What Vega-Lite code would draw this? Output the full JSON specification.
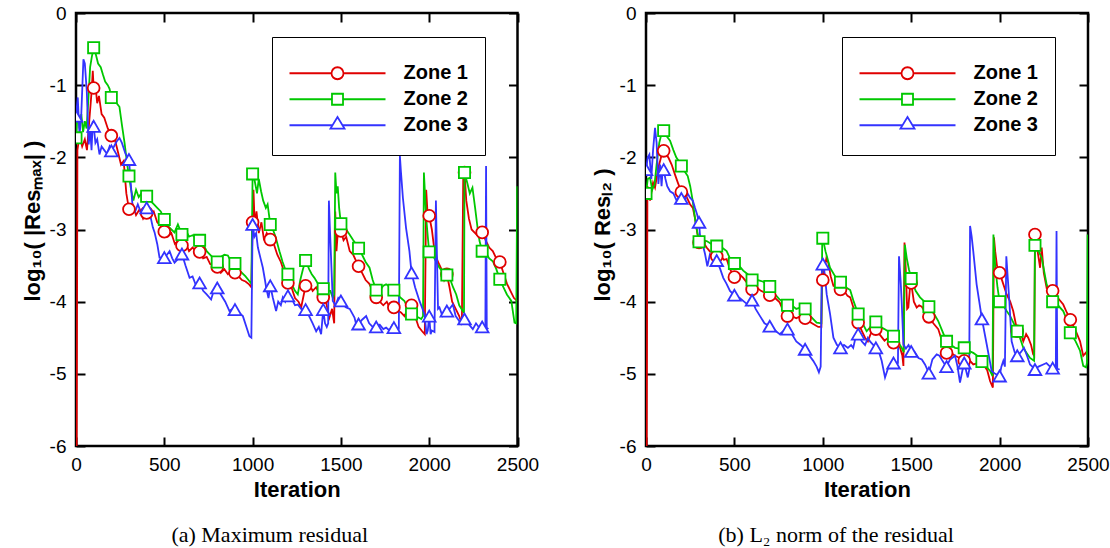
{
"$schema": "https://vega.github.io/schema/vega-lite/v6.json",
"background": "white",
"padding": {"left": 19, "top": 2, "right": 0, "bottom": 0},
"bounds": "flush",
"spacing": 128,
"config": {"view": {"stroke": "black", "strokeWidth": 2.5}, "font": "Liberation Sans"},
"resolve": {"scale": {"color": "independent", "shape": "independent"}, "legend": {"color": "independent", "shape": "independent"}},
"datasets": {"d": [
{"p":"a","z":1,"i":3,"v":-7},{"p":"a","z":1,"i":8,"v":-1.9},{"p":"a","z":1,"i":20,"v":-1.7},{"p":"a","z":1,"i":35,"v":-1.85},{"p":"a","z":1,"i":50,"v":-1.75},{"p":"a","z":1,"i":62,"v":-1.9},{"p":"a","z":1,"i":75,"v":-1.5},{"p":"a","z":1,"i":88,"v":-1.1},{"p":"a","z":1,"i":95,"v":-0.8},{"p":"a","z":1,"i":100,"v":-1.04},{"p":"a","z":1,"i":110,"v":-1.0},{"p":"a","z":1,"i":120,"v":-1.25},{"p":"a","z":1,"i":130,"v":-1.15},{"p":"a","z":1,"i":145,"v":-1.4},{"p":"a","z":1,"i":160,"v":-1.45},{"p":"a","z":1,"i":180,"v":-1.6},{"p":"a","z":1,"i":200,"v":-1.7},{"p":"a","z":1,"i":220,"v":-1.75},{"p":"a","z":1,"i":240,"v":-1.95},{"p":"a","z":1,"i":255,"v":-2.1},{"p":"a","z":1,"i":270,"v":-2.05},{"p":"a","z":1,"i":285,"v":-2.5},{"p":"a","z":1,"i":300,"v":-2.72},{"p":"a","z":1,"i":320,"v":-2.65},{"p":"a","z":1,"i":340,"v":-2.8},{"p":"a","z":1,"i":360,"v":-2.72},{"p":"a","z":1,"i":380,"v":-2.85},{"p":"a","z":1,"i":400,"v":-2.77},{"p":"a","z":1,"i":420,"v":-2.8},{"p":"a","z":1,"i":440,"v":-2.75},{"p":"a","z":1,"i":460,"v":-2.9},{"p":"a","z":1,"i":480,"v":-2.95},{"p":"a","z":1,"i":500,"v":-3.03},{"p":"a","z":1,"i":520,"v":-3.1},{"p":"a","z":1,"i":540,"v":-3.05},{"p":"a","z":1,"i":560,"v":-3.2},{"p":"a","z":1,"i":580,"v":-3.15},{"p":"a","z":1,"i":600,"v":-3.22},{"p":"a","z":1,"i":620,"v":-3.18},{"p":"a","z":1,"i":640,"v":-3.3},{"p":"a","z":1,"i":660,"v":-3.25},{"p":"a","z":1,"i":680,"v":-3.3},{"p":"a","z":1,"i":700,"v":-3.31},{"p":"a","z":1,"i":720,"v":-3.4},{"p":"a","z":1,"i":740,"v":-3.38},{"p":"a","z":1,"i":760,"v":-3.48},{"p":"a","z":1,"i":780,"v":-3.5},{"p":"a","z":1,"i":800,"v":-3.52},{"p":"a","z":1,"i":820,"v":-3.6},{"p":"a","z":1,"i":840,"v":-3.55},{"p":"a","z":1,"i":860,"v":-3.62},{"p":"a","z":1,"i":880,"v":-3.58},{"p":"a","z":1,"i":900,"v":-3.6},{"p":"a","z":1,"i":920,"v":-3.65},{"p":"a","z":1,"i":940,"v":-3.7},{"p":"a","z":1,"i":960,"v":-3.72},{"p":"a","z":1,"i":980,"v":-3.76},{"p":"a","z":1,"i":993,"v":-3.8},{"p":"a","z":1,"i":1000,"v":-2.9},{"p":"a","z":1,"i":1005,"v":-2.45},{"p":"a","z":1,"i":1012,"v":-2.95},{"p":"a","z":1,"i":1022,"v":-2.75},{"p":"a","z":1,"i":1035,"v":-3.05},{"p":"a","z":1,"i":1050,"v":-2.9},{"p":"a","z":1,"i":1065,"v":-3.15},{"p":"a","z":1,"i":1080,"v":-3.05},{"p":"a","z":1,"i":1100,"v":-3.14},{"p":"a","z":1,"i":1120,"v":-3.2},{"p":"a","z":1,"i":1140,"v":-3.35},{"p":"a","z":1,"i":1160,"v":-3.45},{"p":"a","z":1,"i":1180,"v":-3.6},{"p":"a","z":1,"i":1200,"v":-3.74},{"p":"a","z":1,"i":1220,"v":-3.8},{"p":"a","z":1,"i":1240,"v":-3.95},{"p":"a","z":1,"i":1260,"v":-4.0},{"p":"a","z":1,"i":1275,"v":-4.08},{"p":"a","z":1,"i":1290,"v":-3.9},{"p":"a","z":1,"i":1300,"v":-3.78},{"p":"a","z":1,"i":1320,"v":-3.75},{"p":"a","z":1,"i":1340,"v":-3.85},{"p":"a","z":1,"i":1360,"v":-3.8},{"p":"a","z":1,"i":1380,"v":-3.9},{"p":"a","z":1,"i":1400,"v":-3.94},{"p":"a","z":1,"i":1415,"v":-4.0},{"p":"a","z":1,"i":1435,"v":-4.22},{"p":"a","z":1,"i":1450,"v":-4.1},{"p":"a","z":1,"i":1462,"v":-4.3},{"p":"a","z":1,"i":1468,"v":-2.75},{"p":"a","z":1,"i":1475,"v":-3.3},{"p":"a","z":1,"i":1485,"v":-2.95},{"p":"a","z":1,"i":1500,"v":-3.02},{"p":"a","z":1,"i":1515,"v":-3.15},{"p":"a","z":1,"i":1530,"v":-3.1},{"p":"a","z":1,"i":1550,"v":-3.3},{"p":"a","z":1,"i":1570,"v":-3.35},{"p":"a","z":1,"i":1600,"v":-3.51},{"p":"a","z":1,"i":1620,"v":-3.6},{"p":"a","z":1,"i":1640,"v":-3.7},{"p":"a","z":1,"i":1660,"v":-3.75},{"p":"a","z":1,"i":1680,"v":-3.85},{"p":"a","z":1,"i":1700,"v":-3.94},{"p":"a","z":1,"i":1720,"v":-4.0},{"p":"a","z":1,"i":1740,"v":-4.05},{"p":"a","z":1,"i":1760,"v":-4.0},{"p":"a","z":1,"i":1780,"v":-4.1},{"p":"a","z":1,"i":1800,"v":-4.08},{"p":"a","z":1,"i":1820,"v":-4.12},{"p":"a","z":1,"i":1840,"v":-4.15},{"p":"a","z":1,"i":1860,"v":-4.2},{"p":"a","z":1,"i":1880,"v":-4.1},{"p":"a","z":1,"i":1900,"v":-4.05},{"p":"a","z":1,"i":1920,"v":-4.2},{"p":"a","z":1,"i":1940,"v":-4.35},{"p":"a","z":1,"i":1960,"v":-4.41},{"p":"a","z":1,"i":1975,"v":-4.45},{"p":"a","z":1,"i":1983,"v":-2.45},{"p":"a","z":1,"i":1990,"v":-2.75},{"p":"a","z":1,"i":2000,"v":-2.81},{"p":"a","z":1,"i":2015,"v":-3.0},{"p":"a","z":1,"i":2030,"v":-3.3},{"p":"a","z":1,"i":2050,"v":-3.45},{"p":"a","z":1,"i":2070,"v":-3.55},{"p":"a","z":1,"i":2085,"v":-3.7},{"p":"a","z":1,"i":2100,"v":-3.62},{"p":"a","z":1,"i":2115,"v":-3.8},{"p":"a","z":1,"i":2130,"v":-4.0},{"p":"a","z":1,"i":2150,"v":-4.1},{"p":"a","z":1,"i":2170,"v":-4.2},{"p":"a","z":1,"i":2185,"v":-4.3},{"p":"a","z":1,"i":2193,"v":-2.2},{"p":"a","z":1,"i":2200,"v":-2.21},{"p":"a","z":1,"i":2210,"v":-2.6},{"p":"a","z":1,"i":2225,"v":-2.85},{"p":"a","z":1,"i":2240,"v":-3.0},{"p":"a","z":1,"i":2260,"v":-3.05},{"p":"a","z":1,"i":2280,"v":-3.1},{"p":"a","z":1,"i":2300,"v":-3.04},{"p":"a","z":1,"i":2320,"v":-3.15},{"p":"a","z":1,"i":2340,"v":-3.25},{"p":"a","z":1,"i":2360,"v":-3.3},{"p":"a","z":1,"i":2380,"v":-3.4},{"p":"a","z":1,"i":2400,"v":-3.45},{"p":"a","z":1,"i":2420,"v":-3.6},{"p":"a","z":1,"i":2440,"v":-3.75},{"p":"a","z":1,"i":2460,"v":-3.85},{"p":"a","z":1,"i":2480,"v":-3.95},{"p":"a","z":1,"i":2498,"v":-3.99},
{"p":"a","z":2,"i":0,"v":-1.73},{"p":"a","z":2,"i":10,"v":-1.35},{"p":"a","z":2,"i":20,"v":-1.6},{"p":"a","z":2,"i":30,"v":-1.4},{"p":"a","z":2,"i":40,"v":-1.65},{"p":"a","z":2,"i":50,"v":-1.5},{"p":"a","z":2,"i":60,"v":-1.6},{"p":"a","z":2,"i":70,"v":-1.2},{"p":"a","z":2,"i":80,"v":-0.75},{"p":"a","z":2,"i":90,"v":-0.6},{"p":"a","z":2,"i":100,"v":-0.48},{"p":"a","z":2,"i":110,"v":-0.55},{"p":"a","z":2,"i":125,"v":-0.7},{"p":"a","z":2,"i":140,"v":-0.75},{"p":"a","z":2,"i":152,"v":-0.85},{"p":"a","z":2,"i":165,"v":-0.95},{"p":"a","z":2,"i":180,"v":-1.0},{"p":"a","z":2,"i":190,"v":-1.05},{"p":"a","z":2,"i":200,"v":-1.17},{"p":"a","z":2,"i":215,"v":-1.2},{"p":"a","z":2,"i":230,"v":-1.25},{"p":"a","z":2,"i":246,"v":-1.3},{"p":"a","z":2,"i":260,"v":-1.55},{"p":"a","z":2,"i":275,"v":-1.8},{"p":"a","z":2,"i":290,"v":-2.1},{"p":"a","z":2,"i":300,"v":-2.26},{"p":"a","z":2,"i":312,"v":-2.45},{"p":"a","z":2,"i":325,"v":-2.6},{"p":"a","z":2,"i":340,"v":-2.45},{"p":"a","z":2,"i":355,"v":-2.55},{"p":"a","z":2,"i":370,"v":-2.5},{"p":"a","z":2,"i":385,"v":-2.6},{"p":"a","z":2,"i":400,"v":-2.54},{"p":"a","z":2,"i":420,"v":-2.6},{"p":"a","z":2,"i":440,"v":-2.65},{"p":"a","z":2,"i":460,"v":-2.7},{"p":"a","z":2,"i":480,"v":-2.75},{"p":"a","z":2,"i":500,"v":-2.86},{"p":"a","z":2,"i":520,"v":-2.95},{"p":"a","z":2,"i":540,"v":-3.0},{"p":"a","z":2,"i":558,"v":-3.04},{"p":"a","z":2,"i":577,"v":-2.93},{"p":"a","z":2,"i":600,"v":-3.07},{"p":"a","z":2,"i":620,"v":-3.0},{"p":"a","z":2,"i":640,"v":-3.1},{"p":"a","z":2,"i":660,"v":-3.08},{"p":"a","z":2,"i":680,"v":-3.12},{"p":"a","z":2,"i":700,"v":-3.15},{"p":"a","z":2,"i":720,"v":-3.2},{"p":"a","z":2,"i":740,"v":-3.3},{"p":"a","z":2,"i":760,"v":-3.35},{"p":"a","z":2,"i":780,"v":-3.4},{"p":"a","z":2,"i":800,"v":-3.45},{"p":"a","z":2,"i":820,"v":-3.38},{"p":"a","z":2,"i":840,"v":-3.35},{"p":"a","z":2,"i":860,"v":-3.36},{"p":"a","z":2,"i":880,"v":-3.45},{"p":"a","z":2,"i":900,"v":-3.47},{"p":"a","z":2,"i":920,"v":-3.55},{"p":"a","z":2,"i":940,"v":-3.6},{"p":"a","z":2,"i":960,"v":-3.65},{"p":"a","z":2,"i":980,"v":-3.71},{"p":"a","z":2,"i":993,"v":-3.75},{"p":"a","z":2,"i":1000,"v":-2.23},{"p":"a","z":2,"i":1010,"v":-2.3},{"p":"a","z":2,"i":1025,"v":-2.5},{"p":"a","z":2,"i":1035,"v":-2.3},{"p":"a","z":2,"i":1048,"v":-2.47},{"p":"a","z":2,"i":1060,"v":-2.6},{"p":"a","z":2,"i":1075,"v":-2.7},{"p":"a","z":2,"i":1085,"v":-2.65},{"p":"a","z":2,"i":1100,"v":-2.93},{"p":"a","z":2,"i":1115,"v":-3.0},{"p":"a","z":2,"i":1130,"v":-3.1},{"p":"a","z":2,"i":1152,"v":-3.3},{"p":"a","z":2,"i":1170,"v":-3.45},{"p":"a","z":2,"i":1185,"v":-3.55},{"p":"a","z":2,"i":1200,"v":-3.62},{"p":"a","z":2,"i":1220,"v":-3.75},{"p":"a","z":2,"i":1240,"v":-3.85},{"p":"a","z":2,"i":1256,"v":-3.9},{"p":"a","z":2,"i":1270,"v":-3.7},{"p":"a","z":2,"i":1285,"v":-3.55},{"p":"a","z":2,"i":1300,"v":-3.43},{"p":"a","z":2,"i":1320,"v":-3.55},{"p":"a","z":2,"i":1335,"v":-3.62},{"p":"a","z":2,"i":1350,"v":-3.67},{"p":"a","z":2,"i":1370,"v":-3.75},{"p":"a","z":2,"i":1385,"v":-3.8},{"p":"a","z":2,"i":1400,"v":-3.82},{"p":"a","z":2,"i":1420,"v":-3.85},{"p":"a","z":2,"i":1440,"v":-3.85},{"p":"a","z":2,"i":1455,"v":-3.95},{"p":"a","z":2,"i":1462,"v":-3.9},{"p":"a","z":2,"i":1468,"v":-2.21},{"p":"a","z":2,"i":1475,"v":-2.5},{"p":"a","z":2,"i":1482,"v":-2.4},{"p":"a","z":2,"i":1490,"v":-2.7},{"p":"a","z":2,"i":1500,"v":-2.92},{"p":"a","z":2,"i":1515,"v":-2.95},{"p":"a","z":2,"i":1530,"v":-3.0},{"p":"a","z":2,"i":1549,"v":-3.07},{"p":"a","z":2,"i":1570,"v":-3.15},{"p":"a","z":2,"i":1585,"v":-3.2},{"p":"a","z":2,"i":1600,"v":-3.26},{"p":"a","z":2,"i":1620,"v":-3.35},{"p":"a","z":2,"i":1640,"v":-3.45},{"p":"a","z":2,"i":1662,"v":-3.53},{"p":"a","z":2,"i":1680,"v":-3.7},{"p":"a","z":2,"i":1700,"v":-3.84},{"p":"a","z":2,"i":1720,"v":-3.85},{"p":"a","z":2,"i":1740,"v":-3.78},{"p":"a","z":2,"i":1756,"v":-3.76},{"p":"a","z":2,"i":1780,"v":-3.8},{"p":"a","z":2,"i":1800,"v":-3.84},{"p":"a","z":2,"i":1820,"v":-3.9},{"p":"a","z":2,"i":1840,"v":-3.95},{"p":"a","z":2,"i":1860,"v":-3.99},{"p":"a","z":2,"i":1880,"v":-4.1},{"p":"a","z":2,"i":1900,"v":-4.17},{"p":"a","z":2,"i":1920,"v":-4.2},{"p":"a","z":2,"i":1940,"v":-4.22},{"p":"a","z":2,"i":1955,"v":-4.24},{"p":"a","z":2,"i":1965,"v":-4.2},{"p":"a","z":2,"i":1970,"v":-2.21},{"p":"a","z":2,"i":1978,"v":-2.6},{"p":"a","z":2,"i":1985,"v":-2.9},{"p":"a","z":2,"i":1992,"v":-3.1},{"p":"a","z":2,"i":2000,"v":-3.31},{"p":"a","z":2,"i":2020,"v":-3.35},{"p":"a","z":2,"i":2040,"v":-3.45},{"p":"a","z":2,"i":2058,"v":-3.53},{"p":"a","z":2,"i":2080,"v":-3.6},{"p":"a","z":2,"i":2100,"v":-3.63},{"p":"a","z":2,"i":2120,"v":-3.7},{"p":"a","z":2,"i":2135,"v":-3.8},{"p":"a","z":2,"i":2153,"v":-3.9},{"p":"a","z":2,"i":2170,"v":-4.05},{"p":"a","z":2,"i":2190,"v":-4.13},{"p":"a","z":2,"i":2197,"v":-4.15},{"p":"a","z":2,"i":2200,"v":-2.21},{"p":"a","z":2,"i":2215,"v":-2.35},{"p":"a","z":2,"i":2230,"v":-2.5},{"p":"a","z":2,"i":2245,"v":-2.42},{"p":"a","z":2,"i":2260,"v":-2.7},{"p":"a","z":2,"i":2275,"v":-3.0},{"p":"a","z":2,"i":2285,"v":-3.16},{"p":"a","z":2,"i":2300,"v":-3.3},{"p":"a","z":2,"i":2320,"v":-3.32},{"p":"a","z":2,"i":2340,"v":-3.4},{"p":"a","z":2,"i":2360,"v":-3.44},{"p":"a","z":2,"i":2380,"v":-3.55},{"p":"a","z":2,"i":2400,"v":-3.69},{"p":"a","z":2,"i":2420,"v":-3.8},{"p":"a","z":2,"i":2440,"v":-3.9},{"p":"a","z":2,"i":2465,"v":-3.99},{"p":"a","z":2,"i":2483,"v":-4.29},{"p":"a","z":2,"i":2493,"v":-4.3},{"p":"a","z":2,"i":2498,"v":-2.4},
{"p":"a","z":3,"i":0,"v":-1.43},{"p":"a","z":3,"i":10,"v":-1.17},{"p":"a","z":3,"i":20,"v":-1.7},{"p":"a","z":3,"i":30,"v":-1.4},{"p":"a","z":3,"i":42,"v":-0.64},{"p":"a","z":3,"i":50,"v":-0.7},{"p":"a","z":3,"i":61,"v":-1.08},{"p":"a","z":3,"i":72,"v":-1.82},{"p":"a","z":3,"i":80,"v":-1.6},{"p":"a","z":3,"i":88,"v":-1.9},{"p":"a","z":3,"i":95,"v":-1.5},{"p":"a","z":3,"i":100,"v":-1.57},{"p":"a","z":3,"i":110,"v":-1.8},{"p":"a","z":3,"i":120,"v":-1.75},{"p":"a","z":3,"i":133,"v":-1.96},{"p":"a","z":3,"i":145,"v":-1.85},{"p":"a","z":3,"i":160,"v":-1.9},{"p":"a","z":3,"i":175,"v":-1.95},{"p":"a","z":3,"i":190,"v":-1.85},{"p":"a","z":3,"i":200,"v":-1.91},{"p":"a","z":3,"i":215,"v":-1.85},{"p":"a","z":3,"i":230,"v":-1.78},{"p":"a","z":3,"i":246,"v":-1.73},{"p":"a","z":3,"i":260,"v":-1.8},{"p":"a","z":3,"i":280,"v":-1.95},{"p":"a","z":3,"i":300,"v":-2.03},{"p":"a","z":3,"i":312,"v":-2.42},{"p":"a","z":3,"i":321,"v":-2.7},{"p":"a","z":3,"i":335,"v":-2.75},{"p":"a","z":3,"i":350,"v":-2.65},{"p":"a","z":3,"i":365,"v":-2.75},{"p":"a","z":3,"i":380,"v":-2.7},{"p":"a","z":3,"i":400,"v":-2.7},{"p":"a","z":3,"i":420,"v":-2.8},{"p":"a","z":3,"i":435,"v":-2.97},{"p":"a","z":3,"i":445,"v":-3.04},{"p":"a","z":3,"i":460,"v":-3.2},{"p":"a","z":3,"i":473,"v":-3.39},{"p":"a","z":3,"i":500,"v":-3.39},{"p":"a","z":3,"i":515,"v":-3.35},{"p":"a","z":3,"i":530,"v":-3.3},{"p":"a","z":3,"i":545,"v":-3.4},{"p":"a","z":3,"i":558,"v":-3.46},{"p":"a","z":3,"i":580,"v":-3.4},{"p":"a","z":3,"i":600,"v":-3.34},{"p":"a","z":3,"i":620,"v":-3.5},{"p":"a","z":3,"i":643,"v":-3.67},{"p":"a","z":3,"i":660,"v":-3.65},{"p":"a","z":3,"i":680,"v":-3.78},{"p":"a","z":3,"i":700,"v":-3.74},{"p":"a","z":3,"i":720,"v":-3.85},{"p":"a","z":3,"i":740,"v":-3.9},{"p":"a","z":3,"i":765,"v":-3.97},{"p":"a","z":3,"i":780,"v":-3.85},{"p":"a","z":3,"i":800,"v":-3.81},{"p":"a","z":3,"i":820,"v":-3.9},{"p":"a","z":3,"i":845,"v":-4.0},{"p":"a","z":3,"i":869,"v":-4.13},{"p":"a","z":3,"i":885,"v":-4.1},{"p":"a","z":3,"i":900,"v":-4.11},{"p":"a","z":3,"i":920,"v":-4.15},{"p":"a","z":3,"i":945,"v":-4.2},{"p":"a","z":3,"i":965,"v":-4.35},{"p":"a","z":3,"i":982,"v":-4.48},{"p":"a","z":3,"i":993,"v":-4.5},{"p":"a","z":3,"i":1000,"v":-2.93},{"p":"a","z":3,"i":1010,"v":-3.1},{"p":"a","z":3,"i":1020,"v":-3.05},{"p":"a","z":3,"i":1030,"v":-3.25},{"p":"a","z":3,"i":1045,"v":-3.4},{"p":"a","z":3,"i":1058,"v":-3.53},{"p":"a","z":3,"i":1070,"v":-3.7},{"p":"a","z":3,"i":1077,"v":-3.81},{"p":"a","z":3,"i":1090,"v":-3.95},{"p":"a","z":3,"i":1100,"v":-3.78},{"p":"a","z":3,"i":1115,"v":-3.95},{"p":"a","z":3,"i":1133,"v":-4.13},{"p":"a","z":3,"i":1145,"v":-4.0},{"p":"a","z":3,"i":1160,"v":-4.05},{"p":"a","z":3,"i":1171,"v":-3.94},{"p":"a","z":3,"i":1185,"v":-4.0},{"p":"a","z":3,"i":1200,"v":-3.92},{"p":"a","z":3,"i":1220,"v":-3.95},{"p":"a","z":3,"i":1240,"v":-4.05},{"p":"a","z":3,"i":1256,"v":-4.04},{"p":"a","z":3,"i":1275,"v":-4.1},{"p":"a","z":3,"i":1300,"v":-4.11},{"p":"a","z":3,"i":1320,"v":-4.2},{"p":"a","z":3,"i":1340,"v":-4.3},{"p":"a","z":3,"i":1360,"v":-4.41},{"p":"a","z":3,"i":1375,"v":-4.35},{"p":"a","z":3,"i":1388,"v":-4.45},{"p":"a","z":3,"i":1400,"v":-4.11},{"p":"a","z":3,"i":1410,"v":-4.3},{"p":"a","z":3,"i":1420,"v":-4.35},{"p":"a","z":3,"i":1428,"v":-4.3},{"p":"a","z":3,"i":1432,"v":-2.6},{"p":"a","z":3,"i":1438,"v":-3.0},{"p":"a","z":3,"i":1446,"v":-3.5},{"p":"a","z":3,"i":1454,"v":-3.99},{"p":"a","z":3,"i":1470,"v":-4.05},{"p":"a","z":3,"i":1485,"v":-3.95},{"p":"a","z":3,"i":1500,"v":-3.99},{"p":"a","z":3,"i":1515,"v":-4.05},{"p":"a","z":3,"i":1530,"v":-4.08},{"p":"a","z":3,"i":1550,"v":-4.1},{"p":"a","z":3,"i":1577,"v":-4.22},{"p":"a","z":3,"i":1590,"v":-4.35},{"p":"a","z":3,"i":1600,"v":-4.31},{"p":"a","z":3,"i":1620,"v":-4.25},{"p":"a","z":3,"i":1643,"v":-4.2},{"p":"a","z":3,"i":1660,"v":-4.3},{"p":"a","z":3,"i":1680,"v":-4.35},{"p":"a","z":3,"i":1700,"v":-4.35},{"p":"a","z":3,"i":1720,"v":-4.32},{"p":"a","z":3,"i":1740,"v":-4.38},{"p":"a","z":3,"i":1756,"v":-4.36},{"p":"a","z":3,"i":1775,"v":-4.4},{"p":"a","z":3,"i":1790,"v":-4.33},{"p":"a","z":3,"i":1800,"v":-4.36},{"p":"a","z":3,"i":1815,"v":-4.4},{"p":"a","z":3,"i":1828,"v":-4.38},{"p":"a","z":3,"i":1834,"v":-1.98},{"p":"a","z":3,"i":1840,"v":-2.2},{"p":"a","z":3,"i":1851,"v":-2.56},{"p":"a","z":3,"i":1869,"v":-2.98},{"p":"a","z":3,"i":1888,"v":-3.3},{"p":"a","z":3,"i":1900,"v":-3.6},{"p":"a","z":3,"i":1920,"v":-3.8},{"p":"a","z":3,"i":1945,"v":-3.99},{"p":"a","z":3,"i":1973,"v":-4.17},{"p":"a","z":3,"i":1985,"v":-4.45},{"p":"a","z":3,"i":1992,"v":-4.4},{"p":"a","z":3,"i":2000,"v":-4.2},{"p":"a","z":3,"i":2008,"v":-4.45},{"p":"a","z":3,"i":2015,"v":-4.4},{"p":"a","z":3,"i":2030,"v":-4.42},{"p":"a","z":3,"i":2038,"v":-2.6},{"p":"a","z":3,"i":2045,"v":-3.5},{"p":"a","z":3,"i":2050,"v":-4.1},{"p":"a","z":3,"i":2058,"v":-4.08},{"p":"a","z":3,"i":2075,"v":-4.2},{"p":"a","z":3,"i":2100,"v":-4.13},{"p":"a","z":3,"i":2115,"v":-4.1},{"p":"a","z":3,"i":2134,"v":-4.04},{"p":"a","z":3,"i":2150,"v":-4.2},{"p":"a","z":3,"i":2165,"v":-4.25},{"p":"a","z":3,"i":2181,"v":-4.31},{"p":"a","z":3,"i":2200,"v":-4.24},{"p":"a","z":3,"i":2220,"v":-4.3},{"p":"a","z":3,"i":2247,"v":-4.38},{"p":"a","z":3,"i":2265,"v":-4.3},{"p":"a","z":3,"i":2280,"v":-4.35},{"p":"a","z":3,"i":2300,"v":-4.35},{"p":"a","z":3,"i":2318,"v":-4.36},{"p":"a","z":3,"i":2322,"v":-2.12},{"p":"a","z":3,"i":2326,"v":-4.36},{"p":"a","z":3,"i":2335,"v":-4.38},
{"p":"b","z":1,"i":3,"v":-7},{"p":"b","z":1,"i":8,"v":-2.4},{"p":"b","z":1,"i":23,"v":-2.6},{"p":"b","z":1,"i":40,"v":-2.35},{"p":"b","z":1,"i":51,"v":-2.42},{"p":"b","z":1,"i":70,"v":-2.14},{"p":"b","z":1,"i":85,"v":-2.0},{"p":"b","z":1,"i":100,"v":-1.91},{"p":"b","z":1,"i":110,"v":-1.95},{"p":"b","z":1,"i":126,"v":-2.0},{"p":"b","z":1,"i":145,"v":-2.1},{"p":"b","z":1,"i":164,"v":-2.24},{"p":"b","z":1,"i":180,"v":-2.35},{"p":"b","z":1,"i":200,"v":-2.48},{"p":"b","z":1,"i":220,"v":-2.5},{"p":"b","z":1,"i":249,"v":-2.65},{"p":"b","z":1,"i":265,"v":-2.7},{"p":"b","z":1,"i":277,"v":-2.84},{"p":"b","z":1,"i":290,"v":-3.05},{"p":"b","z":1,"i":300,"v":-3.18},{"p":"b","z":1,"i":315,"v":-3.15},{"p":"b","z":1,"i":330,"v":-3.2},{"p":"b","z":1,"i":343,"v":-3.25},{"p":"b","z":1,"i":360,"v":-3.3},{"p":"b","z":1,"i":380,"v":-3.32},{"p":"b","z":1,"i":400,"v":-3.37},{"p":"b","z":1,"i":420,"v":-3.35},{"p":"b","z":1,"i":440,"v":-3.42},{"p":"b","z":1,"i":456,"v":-3.41},{"p":"b","z":1,"i":475,"v":-3.55},{"p":"b","z":1,"i":500,"v":-3.66},{"p":"b","z":1,"i":520,"v":-3.6},{"p":"b","z":1,"i":550,"v":-3.67},{"p":"b","z":1,"i":575,"v":-3.75},{"p":"b","z":1,"i":600,"v":-3.83},{"p":"b","z":1,"i":625,"v":-3.8},{"p":"b","z":1,"i":650,"v":-3.85},{"p":"b","z":1,"i":675,"v":-3.88},{"p":"b","z":1,"i":700,"v":-3.91},{"p":"b","z":1,"i":730,"v":-3.95},{"p":"b","z":1,"i":756,"v":-4.01},{"p":"b","z":1,"i":780,"v":-4.15},{"p":"b","z":1,"i":800,"v":-4.2},{"p":"b","z":1,"i":825,"v":-4.2},{"p":"b","z":1,"i":850,"v":-4.23},{"p":"b","z":1,"i":875,"v":-4.2},{"p":"b","z":1,"i":900,"v":-4.23},{"p":"b","z":1,"i":925,"v":-4.28},{"p":"b","z":1,"i":946,"v":-4.31},{"p":"b","z":1,"i":974,"v":-4.35},{"p":"b","z":1,"i":992,"v":-4.35},{"p":"b","z":1,"i":997,"v":-3.5},{"p":"b","z":1,"i":1000,"v":-3.7},{"p":"b","z":1,"i":1010,"v":-3.55},{"p":"b","z":1,"i":1020,"v":-3.4},{"p":"b","z":1,"i":1031,"v":-3.46},{"p":"b","z":1,"i":1045,"v":-3.65},{"p":"b","z":1,"i":1060,"v":-3.78},{"p":"b","z":1,"i":1080,"v":-3.8},{"p":"b","z":1,"i":1100,"v":-3.83},{"p":"b","z":1,"i":1120,"v":-3.85},{"p":"b","z":1,"i":1140,"v":-3.92},{"p":"b","z":1,"i":1155,"v":-3.94},{"p":"b","z":1,"i":1173,"v":-4.08},{"p":"b","z":1,"i":1185,"v":-4.15},{"p":"b","z":1,"i":1200,"v":-4.29},{"p":"b","z":1,"i":1220,"v":-4.4},{"p":"b","z":1,"i":1239,"v":-4.5},{"p":"b","z":1,"i":1255,"v":-4.55},{"p":"b","z":1,"i":1270,"v":-4.45},{"p":"b","z":1,"i":1285,"v":-4.4},{"p":"b","z":1,"i":1300,"v":-4.38},{"p":"b","z":1,"i":1320,"v":-4.45},{"p":"b","z":1,"i":1349,"v":-4.54},{"p":"b","z":1,"i":1370,"v":-4.5},{"p":"b","z":1,"i":1385,"v":-4.55},{"p":"b","z":1,"i":1400,"v":-4.57},{"p":"b","z":1,"i":1420,"v":-4.6},{"p":"b","z":1,"i":1437,"v":-4.64},{"p":"b","z":1,"i":1450,"v":-4.75},{"p":"b","z":1,"i":1456,"v":-4.89},{"p":"b","z":1,"i":1462,"v":-3.18},{"p":"b","z":1,"i":1470,"v":-3.6},{"p":"b","z":1,"i":1477,"v":-4.1},{"p":"b","z":1,"i":1484,"v":-4.08},{"p":"b","z":1,"i":1493,"v":-3.81},{"p":"b","z":1,"i":1500,"v":-3.74},{"p":"b","z":1,"i":1515,"v":-4.0},{"p":"b","z":1,"i":1531,"v":-4.08},{"p":"b","z":1,"i":1545,"v":-4.05},{"p":"b","z":1,"i":1560,"v":-4.07},{"p":"b","z":1,"i":1580,"v":-4.15},{"p":"b","z":1,"i":1600,"v":-4.21},{"p":"b","z":1,"i":1625,"v":-4.3},{"p":"b","z":1,"i":1653,"v":-4.38},{"p":"b","z":1,"i":1675,"v":-4.55},{"p":"b","z":1,"i":1700,"v":-4.71},{"p":"b","z":1,"i":1720,"v":-4.7},{"p":"b","z":1,"i":1748,"v":-4.75},{"p":"b","z":1,"i":1775,"v":-4.78},{"p":"b","z":1,"i":1800,"v":-4.82},{"p":"b","z":1,"i":1825,"v":-4.8},{"p":"b","z":1,"i":1851,"v":-4.87},{"p":"b","z":1,"i":1880,"v":-4.85},{"p":"b","z":1,"i":1908,"v":-4.87},{"p":"b","z":1,"i":1930,"v":-4.95},{"p":"b","z":1,"i":1946,"v":-5.1},{"p":"b","z":1,"i":1962,"v":-5.19},{"p":"b","z":1,"i":1968,"v":-3.11},{"p":"b","z":1,"i":1975,"v":-3.3},{"p":"b","z":1,"i":1985,"v":-3.5},{"p":"b","z":1,"i":2000,"v":-3.6},{"p":"b","z":1,"i":2020,"v":-3.75},{"p":"b","z":1,"i":2040,"v":-3.9},{"p":"b","z":1,"i":2060,"v":-4.0},{"p":"b","z":1,"i":2077,"v":-4.13},{"p":"b","z":1,"i":2100,"v":-4.41},{"p":"b","z":1,"i":2115,"v":-4.4},{"p":"b","z":1,"i":2134,"v":-4.55},{"p":"b","z":1,"i":2150,"v":-4.45},{"p":"b","z":1,"i":2162,"v":-4.5},{"p":"b","z":1,"i":2178,"v":-4.6},{"p":"b","z":1,"i":2190,"v":-4.73},{"p":"b","z":1,"i":2196,"v":-4.75},{"p":"b","z":1,"i":2200,"v":-3.07},{"p":"b","z":1,"i":2215,"v":-3.3},{"p":"b","z":1,"i":2229,"v":-3.53},{"p":"b","z":1,"i":2238,"v":-3.25},{"p":"b","z":1,"i":2250,"v":-3.6},{"p":"b","z":1,"i":2266,"v":-3.81},{"p":"b","z":1,"i":2285,"v":-3.8},{"p":"b","z":1,"i":2300,"v":-3.85},{"p":"b","z":1,"i":2330,"v":-3.95},{"p":"b","z":1,"i":2360,"v":-4.04},{"p":"b","z":1,"i":2380,"v":-4.15},{"p":"b","z":1,"i":2400,"v":-4.25},{"p":"b","z":1,"i":2430,"v":-4.4},{"p":"b","z":1,"i":2455,"v":-4.55},{"p":"b","z":1,"i":2473,"v":-4.75},{"p":"b","z":1,"i":2490,"v":-4.7},{"p":"b","z":1,"i":2498,"v":-4.8},
{"p":"b","z":2,"i":0,"v":-2.5},{"p":"b","z":2,"i":10,"v":-2.3},{"p":"b","z":2,"i":23,"v":-2.28},{"p":"b","z":2,"i":35,"v":-2.45},{"p":"b","z":2,"i":48,"v":-2.38},{"p":"b","z":2,"i":60,"v":-2.1},{"p":"b","z":2,"i":75,"v":-1.8},{"p":"b","z":2,"i":90,"v":-1.65},{"p":"b","z":2,"i":100,"v":-1.63},{"p":"b","z":2,"i":115,"v":-1.7},{"p":"b","z":2,"i":136,"v":-1.77},{"p":"b","z":2,"i":155,"v":-1.9},{"p":"b","z":2,"i":171,"v":-2.0},{"p":"b","z":2,"i":185,"v":-2.05},{"p":"b","z":2,"i":200,"v":-2.12},{"p":"b","z":2,"i":220,"v":-2.2},{"p":"b","z":2,"i":236,"v":-2.26},{"p":"b","z":2,"i":250,"v":-2.4},{"p":"b","z":2,"i":264,"v":-2.6},{"p":"b","z":2,"i":280,"v":-2.9},{"p":"b","z":2,"i":300,"v":-3.17},{"p":"b","z":2,"i":320,"v":-3.15},{"p":"b","z":2,"i":343,"v":-3.16},{"p":"b","z":2,"i":370,"v":-3.2},{"p":"b","z":2,"i":400,"v":-3.23},{"p":"b","z":2,"i":430,"v":-3.25},{"p":"b","z":2,"i":456,"v":-3.3},{"p":"b","z":2,"i":475,"v":-3.4},{"p":"b","z":2,"i":500,"v":-3.47},{"p":"b","z":2,"i":525,"v":-3.5},{"p":"b","z":2,"i":550,"v":-3.57},{"p":"b","z":2,"i":575,"v":-3.62},{"p":"b","z":2,"i":600,"v":-3.7},{"p":"b","z":2,"i":630,"v":-3.7},{"p":"b","z":2,"i":660,"v":-3.72},{"p":"b","z":2,"i":680,"v":-3.75},{"p":"b","z":2,"i":700,"v":-3.79},{"p":"b","z":2,"i":730,"v":-3.9},{"p":"b","z":2,"i":756,"v":-3.97},{"p":"b","z":2,"i":780,"v":-4.0},{"p":"b","z":2,"i":800,"v":-4.05},{"p":"b","z":2,"i":825,"v":-4.05},{"p":"b","z":2,"i":850,"v":-4.1},{"p":"b","z":2,"i":875,"v":-4.08},{"p":"b","z":2,"i":900,"v":-4.1},{"p":"b","z":2,"i":930,"v":-4.2},{"p":"b","z":2,"i":965,"v":-4.29},{"p":"b","z":2,"i":992,"v":-4.3},{"p":"b","z":2,"i":997,"v":-3.12},{"p":"b","z":2,"i":1000,"v":-3.12},{"p":"b","z":2,"i":1015,"v":-3.3},{"p":"b","z":2,"i":1041,"v":-3.53},{"p":"b","z":2,"i":1070,"v":-3.65},{"p":"b","z":2,"i":1100,"v":-3.73},{"p":"b","z":2,"i":1130,"v":-3.8},{"p":"b","z":2,"i":1155,"v":-3.84},{"p":"b","z":2,"i":1175,"v":-4.0},{"p":"b","z":2,"i":1200,"v":-4.17},{"p":"b","z":2,"i":1225,"v":-4.3},{"p":"b","z":2,"i":1248,"v":-4.41},{"p":"b","z":2,"i":1270,"v":-4.35},{"p":"b","z":2,"i":1300,"v":-4.28},{"p":"b","z":2,"i":1325,"v":-4.35},{"p":"b","z":2,"i":1349,"v":-4.38},{"p":"b","z":2,"i":1375,"v":-4.42},{"p":"b","z":2,"i":1400,"v":-4.48},{"p":"b","z":2,"i":1425,"v":-4.55},{"p":"b","z":2,"i":1446,"v":-4.64},{"p":"b","z":2,"i":1458,"v":-4.7},{"p":"b","z":2,"i":1464,"v":-3.21},{"p":"b","z":2,"i":1475,"v":-3.4},{"p":"b","z":2,"i":1487,"v":-3.55},{"p":"b","z":2,"i":1500,"v":-3.68},{"p":"b","z":2,"i":1525,"v":-3.85},{"p":"b","z":2,"i":1550,"v":-3.94},{"p":"b","z":2,"i":1575,"v":-4.0},{"p":"b","z":2,"i":1600,"v":-4.07},{"p":"b","z":2,"i":1625,"v":-4.15},{"p":"b","z":2,"i":1653,"v":-4.27},{"p":"b","z":2,"i":1675,"v":-4.4},{"p":"b","z":2,"i":1700,"v":-4.55},{"p":"b","z":2,"i":1725,"v":-4.6},{"p":"b","z":2,"i":1748,"v":-4.64},{"p":"b","z":2,"i":1775,"v":-4.65},{"p":"b","z":2,"i":1800,"v":-4.64},{"p":"b","z":2,"i":1825,"v":-4.68},{"p":"b","z":2,"i":1851,"v":-4.71},{"p":"b","z":2,"i":1875,"v":-4.75},{"p":"b","z":2,"i":1900,"v":-4.83},{"p":"b","z":2,"i":1925,"v":-4.9},{"p":"b","z":2,"i":1946,"v":-4.96},{"p":"b","z":2,"i":1960,"v":-5.03},{"p":"b","z":2,"i":1965,"v":-3.07},{"p":"b","z":2,"i":1975,"v":-3.5},{"p":"b","z":2,"i":1988,"v":-3.8},{"p":"b","z":2,"i":2000,"v":-4.0},{"p":"b","z":2,"i":2020,"v":-4.05},{"p":"b","z":2,"i":2040,"v":-4.13},{"p":"b","z":2,"i":2060,"v":-4.2},{"p":"b","z":2,"i":2080,"v":-4.3},{"p":"b","z":2,"i":2100,"v":-4.41},{"p":"b","z":2,"i":2115,"v":-4.5},{"p":"b","z":2,"i":2134,"v":-4.64},{"p":"b","z":2,"i":2150,"v":-4.7},{"p":"b","z":2,"i":2172,"v":-4.78},{"p":"b","z":2,"i":2195,"v":-4.82},{"p":"b","z":2,"i":2200,"v":-3.22},{"p":"b","z":2,"i":2220,"v":-3.3},{"p":"b","z":2,"i":2238,"v":-3.39},{"p":"b","z":2,"i":2250,"v":-3.55},{"p":"b","z":2,"i":2266,"v":-3.76},{"p":"b","z":2,"i":2285,"v":-3.9},{"p":"b","z":2,"i":2300,"v":-4.0},{"p":"b","z":2,"i":2330,"v":-4.05},{"p":"b","z":2,"i":2360,"v":-4.13},{"p":"b","z":2,"i":2380,"v":-4.25},{"p":"b","z":2,"i":2400,"v":-4.43},{"p":"b","z":2,"i":2430,"v":-4.55},{"p":"b","z":2,"i":2455,"v":-4.68},{"p":"b","z":2,"i":2473,"v":-4.89},{"p":"b","z":2,"i":2489,"v":-4.91},{"p":"b","z":2,"i":2494,"v":-4.85},{"p":"b","z":2,"i":2498,"v":-3.07},
{"p":"b","z":3,"i":0,"v":-2.17},{"p":"b","z":3,"i":10,"v":-2.0},{"p":"b","z":3,"i":19,"v":-1.96},{"p":"b","z":3,"i":30,"v":-2.3},{"p":"b","z":3,"i":40,"v":-1.9},{"p":"b","z":3,"i":51,"v":-1.59},{"p":"b","z":3,"i":60,"v":-1.8},{"p":"b","z":3,"i":70,"v":-2.37},{"p":"b","z":3,"i":80,"v":-2.1},{"p":"b","z":3,"i":88,"v":-2.4},{"p":"b","z":3,"i":95,"v":-2.15},{"p":"b","z":3,"i":100,"v":-2.17},{"p":"b","z":3,"i":110,"v":-2.3},{"p":"b","z":3,"i":120,"v":-2.4},{"p":"b","z":3,"i":136,"v":-2.47},{"p":"b","z":3,"i":155,"v":-2.5},{"p":"b","z":3,"i":173,"v":-2.6},{"p":"b","z":3,"i":185,"v":-2.55},{"p":"b","z":3,"i":200,"v":-2.57},{"p":"b","z":3,"i":220,"v":-2.6},{"p":"b","z":3,"i":235,"v":-2.5},{"p":"b","z":3,"i":249,"v":-2.56},{"p":"b","z":3,"i":265,"v":-2.6},{"p":"b","z":3,"i":277,"v":-2.7},{"p":"b","z":3,"i":290,"v":-2.8},{"p":"b","z":3,"i":300,"v":-2.9},{"p":"b","z":3,"i":305,"v":-3.07},{"p":"b","z":3,"i":320,"v":-3.2},{"p":"b","z":3,"i":334,"v":-3.34},{"p":"b","z":3,"i":347,"v":-3.51},{"p":"b","z":3,"i":362,"v":-3.34},{"p":"b","z":3,"i":380,"v":-3.4},{"p":"b","z":3,"i":400,"v":-3.43},{"p":"b","z":3,"i":420,"v":-3.55},{"p":"b","z":3,"i":437,"v":-3.67},{"p":"b","z":3,"i":455,"v":-3.75},{"p":"b","z":3,"i":475,"v":-3.85},{"p":"b","z":3,"i":500,"v":-3.91},{"p":"b","z":3,"i":530,"v":-3.95},{"p":"b","z":3,"i":560,"v":-4.01},{"p":"b","z":3,"i":580,"v":-4.05},{"p":"b","z":3,"i":600,"v":-3.98},{"p":"b","z":3,"i":620,"v":-4.1},{"p":"b","z":3,"i":645,"v":-4.2},{"p":"b","z":3,"i":670,"v":-4.3},{"p":"b","z":3,"i":700,"v":-4.34},{"p":"b","z":3,"i":730,"v":-4.4},{"p":"b","z":3,"i":756,"v":-4.45},{"p":"b","z":3,"i":780,"v":-4.4},{"p":"b","z":3,"i":800,"v":-4.38},{"p":"b","z":3,"i":825,"v":-4.45},{"p":"b","z":3,"i":850,"v":-4.55},{"p":"b","z":3,"i":875,"v":-4.6},{"p":"b","z":3,"i":900,"v":-4.66},{"p":"b","z":3,"i":925,"v":-4.75},{"p":"b","z":3,"i":946,"v":-4.82},{"p":"b","z":3,"i":965,"v":-4.9},{"p":"b","z":3,"i":978,"v":-4.98},{"p":"b","z":3,"i":988,"v":-4.9},{"p":"b","z":3,"i":995,"v":-3.53},{"p":"b","z":3,"i":1000,"v":-3.48},{"p":"b","z":3,"i":1010,"v":-3.6},{"p":"b","z":3,"i":1022,"v":-3.9},{"p":"b","z":3,"i":1041,"v":-4.17},{"p":"b","z":3,"i":1060,"v":-4.5},{"p":"b","z":3,"i":1080,"v":-4.6},{"p":"b","z":3,"i":1100,"v":-4.64},{"p":"b","z":3,"i":1120,"v":-4.6},{"p":"b","z":3,"i":1142,"v":-4.64},{"p":"b","z":3,"i":1160,"v":-4.6},{"p":"b","z":3,"i":1172,"v":-4.64},{"p":"b","z":3,"i":1185,"v":-4.5},{"p":"b","z":3,"i":1200,"v":-4.45},{"p":"b","z":3,"i":1220,"v":-4.55},{"p":"b","z":3,"i":1239,"v":-4.6},{"p":"b","z":3,"i":1255,"v":-4.5},{"p":"b","z":3,"i":1267,"v":-4.55},{"p":"b","z":3,"i":1285,"v":-4.6},{"p":"b","z":3,"i":1300,"v":-4.64},{"p":"b","z":3,"i":1318,"v":-4.7},{"p":"b","z":3,"i":1333,"v":-4.82},{"p":"b","z":3,"i":1352,"v":-5.05},{"p":"b","z":3,"i":1371,"v":-4.91},{"p":"b","z":3,"i":1385,"v":-4.9},{"p":"b","z":3,"i":1400,"v":-4.85},{"p":"b","z":3,"i":1415,"v":-4.9},{"p":"b","z":3,"i":1425,"v":-4.85},{"p":"b","z":3,"i":1431,"v":-3.37},{"p":"b","z":3,"i":1440,"v":-3.7},{"p":"b","z":3,"i":1446,"v":-3.99},{"p":"b","z":3,"i":1456,"v":-4.59},{"p":"b","z":3,"i":1470,"v":-4.65},{"p":"b","z":3,"i":1485,"v":-4.6},{"p":"b","z":3,"i":1500,"v":-4.69},{"p":"b","z":3,"i":1520,"v":-4.7},{"p":"b","z":3,"i":1541,"v":-4.78},{"p":"b","z":3,"i":1560,"v":-4.8},{"p":"b","z":3,"i":1578,"v":-4.87},{"p":"b","z":3,"i":1600,"v":-4.99},{"p":"b","z":3,"i":1620,"v":-4.8},{"p":"b","z":3,"i":1644,"v":-4.73},{"p":"b","z":3,"i":1660,"v":-4.75},{"p":"b","z":3,"i":1672,"v":-4.8},{"p":"b","z":3,"i":1685,"v":-4.85},{"p":"b","z":3,"i":1700,"v":-4.9},{"p":"b","z":3,"i":1720,"v":-4.8},{"p":"b","z":3,"i":1748,"v":-4.75},{"p":"b","z":3,"i":1762,"v":-4.9},{"p":"b","z":3,"i":1776,"v":-5.12},{"p":"b","z":3,"i":1790,"v":-4.95},{"p":"b","z":3,"i":1800,"v":-4.85},{"p":"b","z":3,"i":1810,"v":-4.95},{"p":"b","z":3,"i":1820,"v":-5.05},{"p":"b","z":3,"i":1828,"v":-4.95},{"p":"b","z":3,"i":1833,"v":-2.95},{"p":"b","z":3,"i":1842,"v":-3.1},{"p":"b","z":3,"i":1851,"v":-3.3},{"p":"b","z":3,"i":1870,"v":-3.76},{"p":"b","z":3,"i":1885,"v":-4.0},{"p":"b","z":3,"i":1900,"v":-4.24},{"p":"b","z":3,"i":1927,"v":-4.59},{"p":"b","z":3,"i":1955,"v":-4.96},{"p":"b","z":3,"i":1975,"v":-5.0},{"p":"b","z":3,"i":2000,"v":-5.03},{"p":"b","z":3,"i":2010,"v":-4.9},{"p":"b","z":3,"i":2021,"v":-4.82},{"p":"b","z":3,"i":2030,"v":-4.9},{"p":"b","z":3,"i":2038,"v":-3.37},{"p":"b","z":3,"i":2047,"v":-3.7},{"p":"b","z":3,"i":2055,"v":-3.99},{"p":"b","z":3,"i":2068,"v":-4.55},{"p":"b","z":3,"i":2085,"v":-4.7},{"p":"b","z":3,"i":2100,"v":-4.75},{"p":"b","z":3,"i":2120,"v":-4.7},{"p":"b","z":3,"i":2138,"v":-4.64},{"p":"b","z":3,"i":2155,"v":-4.75},{"p":"b","z":3,"i":2172,"v":-4.87},{"p":"b","z":3,"i":2185,"v":-4.9},{"p":"b","z":3,"i":2200,"v":-4.94},{"p":"b","z":3,"i":2220,"v":-4.9},{"p":"b","z":3,"i":2247,"v":-4.87},{"p":"b","z":3,"i":2265,"v":-4.85},{"p":"b","z":3,"i":2285,"v":-4.9},{"p":"b","z":3,"i":2300,"v":-4.92},{"p":"b","z":3,"i":2318,"v":-4.93},{"p":"b","z":3,"i":2322,"v":-3.02},{"p":"b","z":3,"i":2326,"v":-4.93},{"p":"b","z":3,"i":2340,"v":-4.94}
]},
"hconcat": [
{
"width": 441.5, "height": 433,
"title": {"text": "(a) Maximum residual", "orient": "bottom", "anchor": "middle", "font": "Liberation Serif", "fontSize": 22, "fontWeight": "normal", "color": "black", "offset": 25, "dx": -27},
"data": {"name": "d"},
"transform": [{"filter": "datum.p == 'a'"}],
"resolve": {"axis": {"x": "independent", "y": "independent"}},
"layer": [
{"mark": {"type": "line", "clip": true, "strokeWidth": 1.8},
 "encoding": {
  "x": {"field": "i", "type": "quantitative", "scale": {"domain": [0, 2500], "nice": false, "zero": false},
        "axis": {"orient": "bottom", "values": [0, 500, 1000, 1500, 2000, 2500], "format": "d", "tickSize": -9, "tickWidth": 2, "tickColor": "black", "domain": false, "grid": false, "labelFont": "Liberation Sans", "labelFontSize": 19, "labelColor": "black", "labelPadding": 18, "labelFlush": false, "labelOverlap": false, "title": "Iteration", "titleFont": "Liberation Sans", "titleFontSize": 22, "titleFontWeight": "bold", "titleColor": "black", "titlePadding": 5}},
  "y": {"field": "v", "type": "quantitative", "scale": {"domain": [-6, 0], "nice": false, "zero": false},
        "axis": {"orient": "left", "values": [0, -1, -2, -3, -4, -5, -6], "labelExpr": "'' + datum.value", "tickSize": -9, "tickWidth": 2, "tickColor": "black", "domain": false, "grid": false, "labelFont": "Liberation Sans", "labelFontSize": 19, "labelColor": "black", "labelPadding": 19, "labelFlush": false, "labelOverlap": false, "title": "log₁₀( |Resₘₐₓ| )", "titleFont": "Liberation Sans", "titleFontSize": 22, "titleFontWeight": "bold", "titleColor": "black", "titlePadding": 5, "titleAngle": 270, "titleAlign": "left", "titleY": 288}},
  "color": {"field": "z", "type": "nominal", "scale": {"domain": [1, 2, 3], "range": ["#e00000", "#00c800", "#3333ff"]},
        "legend": {"orient": "none", "legendX": 196, "legendY": 24, "title": " ", "titleFontSize": 7, "titlePadding": 0, "padding": 16.5, "strokeColor": "black", "labelExpr": "'Zone ' + datum.label", "labelFont": "Liberation Sans", "labelFontSize": 20, "labelFontWeight": "bold", "labelColor": "black", "labelOffset": 17, "symbolSize": 9216, "clipHeight": 25.5, "rowPadding": 0, "symbolStrokeWidth": 1.8}}
 }},
{"transform": [{"filter": "datum.i < 0"}],
 "mark": {"type": "point", "filled": false, "strokeWidth": 1.8, "opacity": 1},
 "encoding": {
  "x": {"field": "i", "type": "quantitative", "axis": null},
  "y": {"field": "v", "type": "quantitative", "axis": null},
  "color": {"field": "z", "type": "nominal", "scale": {"domain": [1, 2, 3], "range": ["#e00000", "#00c800", "#3333ff"]},
        "legend": {"orient": "none", "legendX": 196, "legendY": 24, "title": " ", "titleFontSize": 7, "titlePadding": 0, "padding": 16.5, "strokeColor": "black", "labelExpr": "'Zone ' + datum.label", "labelFont": "Liberation Sans", "labelFontSize": 20, "labelFontWeight": "bold", "labelColor": "black", "labelOffset": 17, "symbolSize": 9216, "clipHeight": 25.5, "rowPadding": 0, "symbolStrokeWidth": 1.8}},
  "shape": {"field": "z", "type": "nominal", "scale": {"domain": [1, 2, 3], "range": ["M-1,0L-0.125,0M0.125,0L1,0M0.125,0A0.125,0.125,0,1,1,-0.125,0A0.125,0.125,0,1,1,0.125,0Z", "M-1,0L-0.115,0M0.115,0L1,0M-0.115,-0.115L0.115,-0.115L0.115,0.115L-0.115,0.115Z", "M-1,0L-0.103,0M0.103,0L1,0M0,-0.17L0.146,0.07L-0.146,0.07Z"]},
        "legend": {"orient": "none", "legendX": 196, "legendY": 24, "title": " ", "titleFontSize": 7, "titlePadding": 0, "padding": 16.5, "strokeColor": "black", "labelExpr": "'Zone ' + datum.label", "labelFont": "Liberation Sans", "labelFontSize": 20, "labelFontWeight": "bold", "labelColor": "black", "labelOffset": 17, "symbolSize": 9216, "clipHeight": 25.5, "rowPadding": 0, "symbolStrokeWidth": 1.8}}
 }},
{"transform": [{"filter": "datum.z == 1 && datum.i % 100 == 0"}],
 "mark": {"type": "point", "shape": "circle", "filled": true, "color": "white", "size": 140, "opacity": 1, "clip": true},
 "encoding": {
  "x": {"field": "i", "type": "quantitative", "axis": {"orient": "top", "values": [0, 500, 1000, 1500, 2000, 2500], "tickSize": -9, "tickWidth": 2, "tickColor": "black", "domain": false, "grid": false, "labels": false, "title": null}},
  "y": {"field": "v", "type": "quantitative", "axis": {"orient": "right", "values": [0, -1, -2, -3, -4, -5, -6], "tickSize": -9, "tickWidth": 2, "tickColor": "black", "domain": false, "grid": false, "labels": false, "title": null}}
 }},
{"transform": [{"filter": "datum.z == 1 && datum.i % 100 == 0"}],
 "mark": {"type": "point", "shape": "circle", "filled": false, "color": "#e00000", "strokeWidth": 1.8, "size": 140, "opacity": 1, "clip": true},
 "encoding": {"x": {"field": "i", "type": "quantitative", "axis": null}, "y": {"field": "v", "type": "quantitative", "axis": null}}},
{"transform": [{"filter": "datum.z == 2 && datum.i % 100 == 0"}],
 "mark": {"type": "point", "shape": "square", "filled": true, "color": "white", "size": 125, "opacity": 1, "clip": true},
 "encoding": {"x": {"field": "i", "type": "quantitative", "axis": null}, "y": {"field": "v", "type": "quantitative", "axis": null}}},
{"transform": [{"filter": "datum.z == 2 && datum.i % 100 == 0"}],
 "mark": {"type": "point", "shape": "square", "filled": false, "color": "#00c800", "strokeWidth": 1.8, "size": 125, "opacity": 1, "clip": true},
 "encoding": {"x": {"field": "i", "type": "quantitative", "axis": null}, "y": {"field": "v", "type": "quantitative", "axis": null}}},
{"transform": [{"filter": "datum.z == 3 && datum.i % 100 == 0"}],
 "mark": {"type": "point", "shape": "triangle-up", "filled": true, "color": "white", "size": 160, "opacity": 1, "clip": true},
 "encoding": {"x": {"field": "i", "type": "quantitative", "axis": null}, "y": {"field": "v", "type": "quantitative", "axis": null}}},
{"transform": [{"filter": "datum.z == 3 && datum.i % 100 == 0"}],
 "mark": {"type": "point", "shape": "triangle-up", "filled": false, "color": "#3333ff", "strokeWidth": 1.8, "size": 160, "opacity": 1, "clip": true},
 "encoding": {"x": {"field": "i", "type": "quantitative", "axis": null}, "y": {"field": "v", "type": "quantitative", "axis": null}}}
]
},
{
"width": 442, "height": 433,
"title": {"text": "(b) L₂ norm of the residual", "orient": "bottom", "anchor": "middle", "font": "Liberation Serif", "fontSize": 22, "fontWeight": "normal", "color": "black", "offset": 25, "dx": -31},
"data": {"name": "d"},
"transform": [{"filter": "datum.p == 'b'"}],
"resolve": {"axis": {"x": "independent", "y": "independent"}},
"layer": [
{"mark": {"type": "line", "clip": true, "strokeWidth": 1.8},
 "encoding": {
  "x": {"field": "i", "type": "quantitative", "scale": {"domain": [0, 2500], "nice": false, "zero": false},
        "axis": {"orient": "bottom", "values": [0, 500, 1000, 1500, 2000, 2500], "format": "d", "tickSize": -9, "tickWidth": 2, "tickColor": "black", "domain": false, "grid": false, "labelFont": "Liberation Sans", "labelFontSize": 19, "labelColor": "black", "labelPadding": 18, "labelFlush": false, "labelOverlap": false, "title": "Iteration", "titleFont": "Liberation Sans", "titleFontSize": 22, "titleFontWeight": "bold", "titleColor": "black", "titlePadding": 5}},
  "y": {"field": "v", "type": "quantitative", "scale": {"domain": [-6, 0], "nice": false, "zero": false},
        "axis": {"orient": "left", "values": [0, -1, -2, -3, -4, -5, -6], "labelExpr": "'' + datum.value", "tickSize": -9, "tickWidth": 2, "tickColor": "black", "domain": false, "grid": false, "labelFont": "Liberation Sans", "labelFontSize": 19, "labelColor": "black", "labelPadding": 19, "labelFlush": false, "labelOverlap": false, "title": "log₁₀( Resₗ₂ )", "titleFont": "Liberation Sans", "titleFontSize": 22, "titleFontWeight": "bold", "titleColor": "black", "titlePadding": 5, "titleAngle": 270, "titleAlign": "left", "titleY": 288}},
  "color": {"field": "z", "type": "nominal", "scale": {"domain": [1, 2, 3], "range": ["#e00000", "#00c800", "#3333ff"]},
        "legend": {"orient": "none", "legendX": 196, "legendY": 24, "title": " ", "titleFontSize": 7, "titlePadding": 0, "padding": 16.5, "strokeColor": "black", "labelExpr": "'Zone ' + datum.label", "labelFont": "Liberation Sans", "labelFontSize": 20, "labelFontWeight": "bold", "labelColor": "black", "labelOffset": 17, "symbolSize": 9216, "clipHeight": 25.5, "rowPadding": 0, "symbolStrokeWidth": 1.8}}
 }},
{"transform": [{"filter": "datum.i < 0"}],
 "mark": {"type": "point", "filled": false, "strokeWidth": 1.8, "opacity": 1},
 "encoding": {
  "x": {"field": "i", "type": "quantitative", "axis": null},
  "y": {"field": "v", "type": "quantitative", "axis": null},
  "color": {"field": "z", "type": "nominal", "scale": {"domain": [1, 2, 3], "range": ["#e00000", "#00c800", "#3333ff"]},
        "legend": {"orient": "none", "legendX": 196, "legendY": 24, "title": " ", "titleFontSize": 7, "titlePadding": 0, "padding": 16.5, "strokeColor": "black", "labelExpr": "'Zone ' + datum.label", "labelFont": "Liberation Sans", "labelFontSize": 20, "labelFontWeight": "bold", "labelColor": "black", "labelOffset": 17, "symbolSize": 9216, "clipHeight": 25.5, "rowPadding": 0, "symbolStrokeWidth": 1.8}},
  "shape": {"field": "z", "type": "nominal", "scale": {"domain": [1, 2, 3], "range": ["M-1,0L-0.125,0M0.125,0L1,0M0.125,0A0.125,0.125,0,1,1,-0.125,0A0.125,0.125,0,1,1,0.125,0Z", "M-1,0L-0.115,0M0.115,0L1,0M-0.115,-0.115L0.115,-0.115L0.115,0.115L-0.115,0.115Z", "M-1,0L-0.103,0M0.103,0L1,0M0,-0.17L0.146,0.07L-0.146,0.07Z"]},
        "legend": {"orient": "none", "legendX": 196, "legendY": 24, "title": " ", "titleFontSize": 7, "titlePadding": 0, "padding": 16.5, "strokeColor": "black", "labelExpr": "'Zone ' + datum.label", "labelFont": "Liberation Sans", "labelFontSize": 20, "labelFontWeight": "bold", "labelColor": "black", "labelOffset": 17, "symbolSize": 9216, "clipHeight": 25.5, "rowPadding": 0, "symbolStrokeWidth": 1.8}}
 }},
{"transform": [{"filter": "datum.z == 1 && datum.i % 100 == 0"}],
 "mark": {"type": "point", "shape": "circle", "filled": true, "color": "white", "size": 140, "opacity": 1, "clip": true},
 "encoding": {
  "x": {"field": "i", "type": "quantitative", "axis": {"orient": "top", "values": [0, 500, 1000, 1500, 2000, 2500], "tickSize": -9, "tickWidth": 2, "tickColor": "black", "domain": false, "grid": false, "labels": false, "title": null}},
  "y": {"field": "v", "type": "quantitative", "axis": {"orient": "right", "values": [0, -1, -2, -3, -4, -5, -6], "tickSize": -9, "tickWidth": 2, "tickColor": "black", "domain": false, "grid": false, "labels": false, "title": null}}
 }},
{"transform": [{"filter": "datum.z == 1 && datum.i % 100 == 0"}],
 "mark": {"type": "point", "shape": "circle", "filled": false, "color": "#e00000", "strokeWidth": 1.8, "size": 140, "opacity": 1, "clip": true},
 "encoding": {"x": {"field": "i", "type": "quantitative", "axis": null}, "y": {"field": "v", "type": "quantitative", "axis": null}}},
{"transform": [{"filter": "datum.z == 2 && datum.i % 100 == 0"}],
 "mark": {"type": "point", "shape": "square", "filled": true, "color": "white", "size": 125, "opacity": 1, "clip": true},
 "encoding": {"x": {"field": "i", "type": "quantitative", "axis": null}, "y": {"field": "v", "type": "quantitative", "axis": null}}},
{"transform": [{"filter": "datum.z == 2 && datum.i % 100 == 0"}],
 "mark": {"type": "point", "shape": "square", "filled": false, "color": "#00c800", "strokeWidth": 1.8, "size": 125, "opacity": 1, "clip": true},
 "encoding": {"x": {"field": "i", "type": "quantitative", "axis": null}, "y": {"field": "v", "type": "quantitative", "axis": null}}},
{"transform": [{"filter": "datum.z == 3 && datum.i % 100 == 0"}],
 "mark": {"type": "point", "shape": "triangle-up", "filled": true, "color": "white", "size": 160, "opacity": 1, "clip": true},
 "encoding": {"x": {"field": "i", "type": "quantitative", "axis": null}, "y": {"field": "v", "type": "quantitative", "axis": null}}},
{"transform": [{"filter": "datum.z == 3 && datum.i % 100 == 0"}],
 "mark": {"type": "point", "shape": "triangle-up", "filled": false, "color": "#3333ff", "strokeWidth": 1.8, "size": 160, "opacity": 1, "clip": true},
 "encoding": {"x": {"field": "i", "type": "quantitative", "axis": null}, "y": {"field": "v", "type": "quantitative", "axis": null}}}
]
}
]
}
